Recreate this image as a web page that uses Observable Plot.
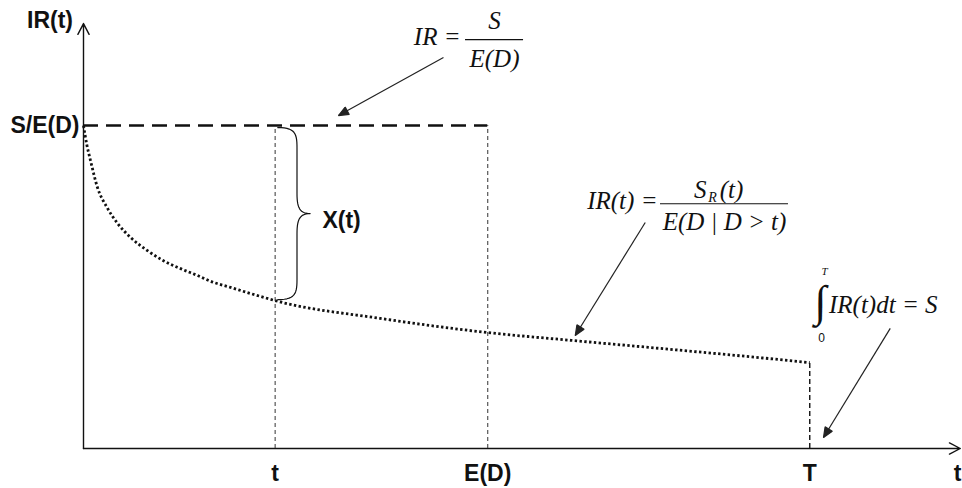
<!DOCTYPE html>
<html><head><meta charset="utf-8">
<script src="https://cdn.jsdelivr.net/npm/d3@7"></script>
<script src="https://cdn.jsdelivr.net/npm/@observablehq/plot@0.6"></script>
<style>html,body{margin:0;padding:0;background:#fff;}</style>
</head><body><div id="chart"></div>
<script>
// ---- data (abstract time units, IR in units of S/E(D)) ----
const tickLabels = ["t", "E(D)", "T"];
const tickValues = [2.19, 4.62, 8.30];
const levelLabel = "S/E(D)";
const levelValue = 1;
const curveT  = [0, 0.04, 0.08, 0.16, 0.27, 0.39, 0.54, 0.73, 0.91, 1.11, 1.30, 1.49, 1.68, 1.87, 2.06, 2.19, 3.39, 4.62, 5.57, 6.59, 7.74, 8.30];
const curveIR = [1.0, 0.938, 0.892, 0.808, 0.746, 0.697, 0.653, 0.613, 0.582, 0.557, 0.536, 0.514, 0.499, 0.483, 0.468, 0.458, 0.403, 0.359, 0.335, 0.310, 0.281, 0.266];
const axisLabels = ["IR(t)", "t"];
const braceLabel = "X(t)";

// annotation arrows: from / to
const arrowFrom = [[4.114, 1.211], [6.42, 0.700], [9.22, 0.372]];
const arrowTo   = [[2.914, 1.031], [5.62, 0.350], [8.457, 0.034]];

const curve = curveT.map((t, i) => ({t, ir: curveIR[i]}));
const [tT, tED, tEnd] = tickValues;
const irAtT = curveIR[curveT.indexOf(tT)];
const irAtEnd = curveIR[curveIR.length - 1];

// curly brace shape between levelValue and IR(t)
function cubic(p0, p1, p2, p3, n = 14) {
  const out = [];
  for (let i = 0; i <= n; i++) {
    const s = i / n, u = 1 - s;
    out.push({
      x: u*u*u*p0[0] + 3*u*u*s*p1[0] + 3*u*s*s*p2[0] + s*s*s*p3[0],
      y: u*u*u*p0[1] + 3*u*u*s*p1[1] + 3*u*s*s*p2[1] + s*s*s*p3[1]
    });
  }
  return out;
}
function brace(x0, yTop, yBot, wBody, wTip, h) {
  const xb = x0 + wBody, xt = x0 + wTip, ym = (yTop + yBot) / 2;
  return [
    ...cubic([x0, yTop], [x0 + wBody*0.9, yTop], [xb, yTop - h*0.3], [xb, yTop - h]),
    ...cubic([xb, ym + h], [xb, ym + h*0.3], [xb + (xt-xb)*0.2, ym], [xt, ym]),
    ...cubic([xt, ym], [xb + (xt-xb)*0.2, ym], [xb, ym - h*0.3], [xb, ym - h]),
    ...cubic([xb, yBot + h], [xb, yBot + h*0.3], [x0 + wBody*0.9, yBot], [x0, yBot])
  ];
}
const braceData = brace(tT + 0.03, levelValue - 0.006, irAtT + 0.003, 0.22, 0.37, 0.062);

// filled arrowhead marker
function filledArrow(color, context) {
  const doc = context.document;
  const m = doc.createElementNS("http://www.w3.org/2000/svg", "marker");
  m.setAttribute("viewBox", "-10 -5 10 10");
  m.setAttribute("refX", "0");
  m.setAttribute("refY", "0");
  m.setAttribute("markerWidth", "14");
  m.setAttribute("markerHeight", "10");
  m.setAttribute("markerUnits", "userSpaceOnUse");
  m.setAttribute("orient", "auto");
  const p = doc.createElementNS("http://www.w3.org/2000/svg", "path");
  p.setAttribute("d", "M-10,-4.2L0,0L-10,4.2Z");
  p.setAttribute("fill", color);
  m.appendChild(p);
  return m;
}

const arrows = arrowFrom.map((f, i) => ({x1: f[0], y1: f[1], x2: arrowTo[i][0], y2: arrowTo[i][1]}));

const sans = "Liberation Sans, Arial, sans-serif";
const serif = "Liberation Serif, Times New Roman, serif";
const ink = "#111";
const fs = 25;

const chart = Plot.plot({
  width: 962,
  height: 488,
  marginLeft: 83,
  marginRight: 4,
  marginTop: 25,
  marginBottom: 40,
  x: {domain: [0, 10], axis: null},
  y: {domain: [0, 1.31], axis: null},
  style: {background: "#fff", overflow: "visible"},
  marks: [
    // axes
    Plot.arrow([{x1: 0, y1: 0, x2: 0, y2: 1.316}], {x1: "x1", y1: "y1", x2: "x2", y2: "y2", stroke: ink, strokeWidth: 1.4, headLength: 13, headAngle: 55}),
    Plot.arrow([{x1: 0, y1: 0, x2: 10.02, y2: 0}], {x1: "x1", y1: "y1", x2: "x2", y2: "y2", stroke: ink, strokeWidth: 1.4, headLength: 13, headAngle: 55}),
    // vertical guides at t and E(D)
    Plot.ruleX([tT, tED], {y1: 0, y2: levelValue, stroke: "#333", strokeWidth: 1, strokeDasharray: "4,3"}),
    // vertical at T
    Plot.ruleX([tEnd], {y1: 0, y2: irAtEnd, stroke: ink, strokeWidth: 1.4, strokeDasharray: "5,3"}),
    // S/E(D) level
    Plot.ruleY([levelValue], {x1: 0, x2: tED, stroke: ink, strokeWidth: 2.5, strokeDasharray: "15,8"}),
    // IR(t) curve (dotted)
    Plot.line(curve, {x: "t", y: "ir", curve: "monotone-x", stroke: ink, strokeWidth: 2.8, strokeDasharray: "2.4,2.4", strokeLinecap: "butt"}),
    // brace
    Plot.line(braceData, {x: "x", y: "y", stroke: ink, strokeWidth: 1.2}),
    // annotation arrows
    Plot.link(arrows, {x1: "x1", y1: "y1", x2: "x2", y2: "y2", stroke: "#222", strokeWidth: 1.2, markerEnd: filledArrow}),
    // labels
    Plot.text([axisLabels[0]], {x: -0.383, y: 1.325, text: d => d, fontFamily: sans, fontWeight: "bold", fontSize: 23, fill: ink}),
    Plot.text([levelLabel], {x: -0.046, y: levelValue, text: d => d, textAnchor: "end", fontFamily: sans, fontWeight: "bold", fontSize: 23, fill: ink}),
    Plot.text(tickLabels, {x: (d, i) => tickValues[i], y: -0.077, text: d => d, fontFamily: sans, fontWeight: "bold", fontSize: 23, fill: ink}),
    Plot.text([axisLabels[1]], {x: 9.99, y: -0.077, text: d => d, fontFamily: sans, fontWeight: "bold", fontSize: 23, fill: ink}),
    Plot.text([braceLabel], {x: 2.731, y: 0.706, text: d => d, textAnchor: "start", fontFamily: sans, fontWeight: "bold", fontSize: 23, fill: ink}),
    // formula 1: IR = S / E(D)
    Plot.text(["IR ="], {x: 4.309, y: 1.273, text: d => d, textAnchor: "end", fontFamily: serif, fontStyle: "italic", fontSize: fs, fill: ink}),
    Plot.ruleY([1.266], {x1: 4.366, x2: 5.029, stroke: ink, strokeWidth: 1.2}),
    Plot.text(["S"], {x: 4.697, y: 1.325, text: d => d, fontFamily: serif, fontStyle: "italic", fontSize: fs, fill: ink}),
    Plot.text(["E(D)"], {x: 4.697, y: 1.205, text: d => d, fontFamily: serif, fontStyle: "italic", fontSize: fs, fill: ink}),
    // formula 2: IR(t) = S_R(t) / E(D | D > t)
    Plot.text(["IR(t) ="], {x: 6.56, y: 0.768, text: d => d, textAnchor: "end", fontFamily: serif, fontStyle: "italic", fontSize: fs, fill: ink}),
    Plot.ruleY([0.758], {x1: 6.594, x2: 8.057, stroke: ink, strokeWidth: 1.2}),
    Plot.text(["S"], {x: 7.12, y: 0.802, text: d => d, textAnchor: "end", fontFamily: serif, fontStyle: "italic", fontSize: fs, fill: ink}),
    Plot.text(["R"], {x: 7.14, y: 0.776, text: d => d, textAnchor: "start", fontFamily: serif, fontStyle: "italic", fontSize: 14, fill: ink}),
    Plot.text(["(t)"], {x: 7.27, y: 0.802, text: d => d, textAnchor: "start", fontFamily: serif, fontStyle: "italic", fontSize: fs, fill: ink}),
    Plot.text(["E(D | D > t)"], {x: 7.326, y: 0.700, text: d => d, fontFamily: serif, fontStyle: "italic", fontSize: fs, fill: ink}),
    // formula 3: ∫_0^T IR(t)dt = S
    Plot.text(["∫"], {x: 8.423, y: 0.455, text: d => d, fontFamily: serif, fontSize: 44, fill: ink}),
    Plot.text(["T"], {x: 8.47, y: 0.548, text: d => d, fontFamily: serif, fontStyle: "italic", fontSize: 11, fill: ink}),
    Plot.text(["0"], {x: 8.434, y: 0.341, text: d => d, fontFamily: sans, fontSize: 12, fill: ink}),
    Plot.text(["IR(t)dt = S"], {x: 8.52, y: 0.443, text: d => d, textAnchor: "start", fontFamily: serif, fontStyle: "italic", fontSize: fs, fill: ink})
  ]
});
document.getElementById("chart").appendChild(chart);
</script>
</body></html>
